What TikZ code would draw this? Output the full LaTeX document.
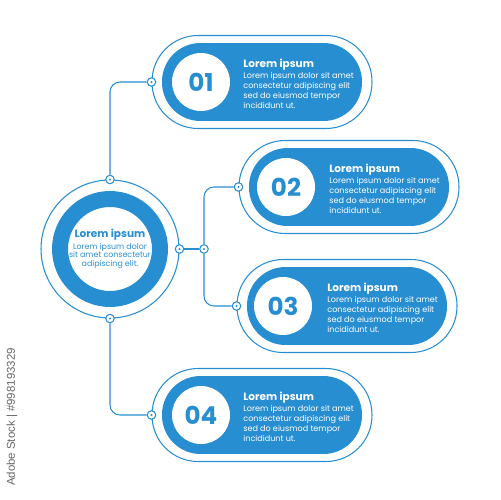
\documentclass[tikz,border=0pt]{standalone}
\usepackage{fontspec}
\setmainfont{Poppins}
\newfontfamily\markfont{Liberation Sans}
\definecolor{infoblue}{RGB}{40,142,210}

\tikzset{
  card/.style={rectangle, rounded corners=0.92cm, draw=infoblue, line width=0.6pt, minimum width=4.4cm, minimum height=1.86cm},
  band/.style={rectangle, rounded corners=0.77cm, fill=infoblue, minimum width=4cm, minimum height=1.56cm},
  badge/.style={circle, fill=white, minimum size=1.16cm, inner sep=0pt, text=infoblue, font=\fontsize{14}{14}\selectfont\bfseries},
  pin/.style={circle, draw=infoblue, fill=white, line width=0.6pt, minimum size=0.17cm, inner sep=0pt,
    path picture={\fill[infoblue] (path picture bounding box.center) circle (0.7pt);}},
  link/.style={draw=infoblue, line width=0.6pt, rounded corners=0.2cm},
  head/.style={anchor=west, text=white, inner sep=0pt, font=\fontsize{6}{7}\selectfont\bfseries},
  body/.style={anchor=north west, text=white, inner sep=0pt, align=left, font=\fontsize{4.6}{4.4}\selectfont},
}

\begin{document}
\begin{tikzpicture}[x=0.02cm, y=-0.02cm]
    \useasboundingbox (0,0) rectangle (500,500);

    \node[circle, draw=infoblue, line width=0.6pt, minimum size=2.76cm, inner sep=0pt] (hub) at (110,249) {};
    \node[circle, draw=infoblue, line width=0.32cm, minimum size=2cm, inner sep=0pt] (ring) at (hub) {};
    \node[text=infoblue, inner sep=0pt, font=\fontsize{6}{7}\selectfont\bfseries] (hubhead) at (110,235) {Lorem ipsum};
    \node[text=infoblue, inner sep=0pt, align=center, font=\fontsize{4.5}{4.6}\selectfont] (hubbody) at (110,256)
      {Lorem ipsum dolor\\sit amet consectetur\\adipiscing elit.};

    \node[card] (c1) at (262,82) {};
    \node[band] (b1) at (262,82) {};
    \node[badge] (n1) at (201,82) {01};
    \node[head] (t1) at (243,65) {Lorem ipsum};
    \node[body] (s1) at (243,72) {Lorem ipsum dolor sit amet\\consectetur adipiscing elit\\sed do eiusmod tempor\\incididunt ut.};

    \node[card] (c2) at (349,187) {};
    \node[band] (b2) at (349,187) {};
    \node[badge] (n2) at (286,187) {02};
    \node[head] (t2) at (329,170) {Lorem ipsum};
    \node[body] (s2) at (329,177) {Lorem ipsum dolor sit amet\\consectetur adipiscing elit\\sed do eiusmod tempor\\incididunt ut.};

    \node[card] (c3) at (347,306) {};
    \node[band] (b3) at (347,306) {};
    \node[badge] (n3) at (283,306) {03};
    \node[head] (t3) at (327,289) {Lorem ipsum};
    \node[body] (s3) at (327,296) {Lorem ipsum dolor sit amet\\consectetur adipiscing elit\\sed do eiusmod tempor\\incididunt ut.};

    \node[card] (c4) at (262,415) {};
    \node[band] (b4) at (262,415) {};
    \node[badge] (n4) at (201,415) {04};
    \node[head] (t4) at (243,398) {Lorem ipsum};
    \node[body] (s4) at (243,405) {Lorem ipsum dolor sit amet\\consectetur adipiscing elit\\sed do eiusmod tempor\\incididunt ut.};

    % connection dots
    \node[pin] (ptop) at (hub.north) {};
    \node[pin] (pright) at (hub.east) {};
    \node[pin] (pbot) at (hub.south) {};
    \node[pin] (pjoin) at (204,249) {};
    \node[pin] (p1) at (c1.west) {};
    \node[pin] (p2) at (c2.west) {};
    \node[pin] (p3) at (c3.west) {};
    \node[pin] (p4) at (c4.west) {};

    \draw[link] (ptop) |- (p1);
    \draw[link] (pbot) |- (p4);
    \draw[link] (pright) -- (pjoin);
    \draw[link] (pjoin) |- (p2);
    \draw[link] (pjoin) |- (p3);

    \node[rotate=90, text=black!60, inner sep=0pt, font=\markfont\fontsize{6.5}{7}\selectfont] (mark) at (12,417) {Adobe Stock | \#998193329};
  \end{tikzpicture}
\end{document}
